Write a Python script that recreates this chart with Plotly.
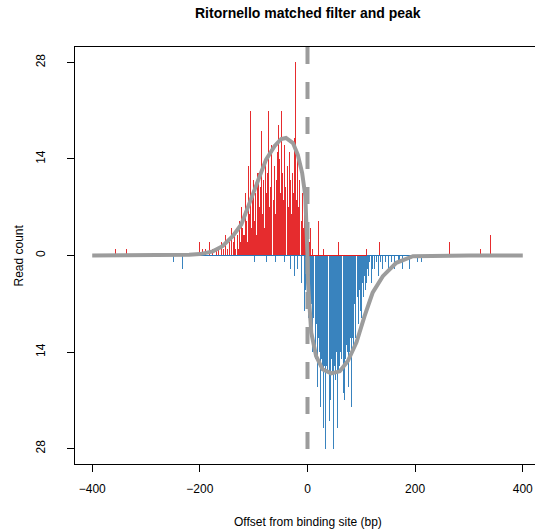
import plotly.graph_objects as go

# ---- data ----
red_pos = [-356, -336, -201, -196, -190, -182, -176, -170, -165, -160, -156, -152, -148, -145, -142, -138, -135, -133,
           -130, -128, -126, -124, -122, -120, -118, -116, -114, -112, -110, -108, -106, -104, -102, -100,
           -98, -96, -94, -92, -90, -88, -86, -84, -82, -80, -78, -76, -74, -72, -70, -68, -66, -64, -62, -60,
           -58, -56, -54, -52, -50, -48, -46, -44, -42, -40, -38, -36, -34, -32, -30, -28, -26, -24, -22, -20,
           -18, -16, -14, -12, -10, -8, -6, -4, -2, 0,
           3, 6, 10, 21, 30, 57, 110, 133, 264, 322, 340]
red_cnt = [1, 1, 2, 1, 1, 2, 1, 1, 1, 2, 1, 3, 1, 2, 4, 2, 3, 1,
           3, 1, 5, 2, 7, 4, 3, 9, 5, 2, 13, 6, 21, 4, 8, 11,
           5, 9, 3, 12, 7, 10, 18, 6, 11, 4, 14, 9, 12, 21, 7, 10, 16, 8, 13, 6,
           11, 15, 19, 14, 9, 21, 12, 8, 16, 10, 13, 7, 15, 11, 6, 12, 9, 17, 28, 8,
           15, 7, 11, 5, 9, 4, 7, 8, 3, 2,
           2, 4, 1, 5, 1, 2, 1, 2, 2, 1, 3]

blue_pos = [-249, -233, -99, -76, -60, -43, -31, -24, -18, -12, -6, -3,
            0, 2, 4, 6, 8, 10, 12, 14, 16, 18, 20, 22, 24, 26, 28, 30, 32, 34, 36, 38, 40,
            42, 44, 46, 48, 50, 52, 54, 56, 58, 60, 62, 64, 66, 68, 70, 72, 74, 76, 78, 80,
            82, 84, 86, 88, 90, 92, 94, 96, 98, 100, 102, 104, 106, 108, 110, 112, 114, 116, 118, 120,
            124, 128, 132, 136, 140, 145, 150, 156, 162, 170, 177, 190, 204, 212]
blue_cnt = [1, 2, 1, 1, 1, 1, 2, 3, 2, 4, 8, 5,
            6, 9, 4, 11, 7, 14, 9, 15, 10, 19, 12, 14, 22, 15, 16, 25, 16, 28, 16, 17, 24,
            21, 15, 17, 28, 16, 18, 14, 25, 17, 16, 14, 15, 20, 21, 15, 13, 14, 19, 14, 12,
            22, 12, 13, 7, 12, 6, 10, 5, 8, 9, 4, 6, 3, 5, 4, 2, 3, 1, 4, 2,
            2, 1, 3, 1, 2, 1, 2, 1, 2, 1, 2, 2, 1, 1]

# thin baselines at zero drawn by the zero-height bars
blue_base_x = [-200, 208]
red_base_x = [0, 110]

curve_x = [-400, -300, -250, -238, -220, -200, -176, -158, -139, -123, -108, -92, -77, -61, -49, -40,
           -27, -18, -10, -4, -1, 0, 1, 2.5, 7, 16, 28, 44, 60, 75, 91, 106, 121, 140, 165, 196, 250, 300, 400]
curve_y = [0, 0, 0.02, 0.05, 0.1, 0.2, 0.6, 1.35, 2.8, 4.5, 7.6, 11.0, 13.9, 15.9, 16.9, 17.05,
           16.3, 14.6, 12.0, 8.6, 4.2, 0, -4.0, -6.4, -11.2, -14.6, -16.5, -17.1, -16.8, -15.3, -12.6, -8.8,
           -5.4, -3.0, -1.06, -0.1, 0, 0, 0]

x_ticks = [-400, -200, 0, 200, 400]
x_ticklabels = ["\u2212400", "\u2212200", "0", "200", "400"]
y_ticks = [-28, -14, 0, 14, 28]
y_ticklabels = ["28", "14", "0", "14", "28"]

RED = "rgba(228,26,28,0.92)"
BLUE = "rgba(40,120,185,0.92)"
GRAY = "#9c9c9c"
FONT = "Liberation Sans, Arial, Helvetica, sans-serif"

fig = go.Figure()
fig.add_trace(go.Scatter(x=blue_base_x, y=[0, 0], mode="lines", line=dict(color="rgb(40,120,185)", width=1.2),
                         showlegend=False, hoverinfo="skip"))
fig.add_trace(go.Scatter(x=red_base_x, y=[0, 0], mode="lines", line=dict(color="rgb(228,26,28)", width=1.2),
                         showlegend=False, hoverinfo="skip"))
fig.add_trace(go.Bar(x=red_pos, y=red_cnt, width=1.9, marker=dict(color=RED, line=dict(width=0)),
                     showlegend=False))
fig.add_trace(go.Bar(x=blue_pos, y=[-v for v in blue_cnt], width=1.9,
                     marker=dict(color=BLUE, line=dict(width=0)), showlegend=False))
fig.add_trace(go.Scatter(x=curve_x, y=curve_y, mode="lines", line=dict(color=GRAY, width=4),
                         showlegend=False, hoverinfo="skip"))

fig.add_shape(type="line", xref="x", yref="paper", x0=0, x1=0, y0=1, y1=0,
              line=dict(color=GRAY, width=4, dash="17px,18px"), layer="above")

fig.update_layout(
    width=535, height=532,
    margin=dict(l=75, r=0, t=47, b=68),
    plot_bgcolor="white", paper_bgcolor="white",
    barmode="overlay", bargap=0,
    font=dict(family=FONT, size=12, color="black"),
    xaxis=dict(range=[-432, 422.7], tickmode="array", tickvals=x_ticks, ticktext=x_ticklabels,
               showgrid=False, zeroline=False, showline=True, mirror=True, linecolor="black", linewidth=1,
               ticks="outside", ticklen=7, tickcolor="black", tickfont=dict(size=12),
               ticklabelstandoff=7),
    yaxis=dict(range=[-30.24, 30.24], tickmode="array", tickvals=y_ticks, ticktext=y_ticklabels,
               showgrid=False, zeroline=False, showline=True, mirror=False, linecolor="black", linewidth=1,
               ticks="outside", ticklen=7, tickcolor="black", tickangle=-90, tickfont=dict(size=12),
               ticklabelstandoff=17),
    annotations=[
        dict(text="<b>Ritornello matched filter and peak</b>", xref="x", yref="paper", x=0, y=1,
             yshift=34, showarrow=False, font=dict(size=14), xanchor="center", yanchor="middle"),
        dict(text="Offset from binding site (bp)", xref="x", yref="paper", x=0, y=0, yshift=-58,
             showarrow=False, font=dict(size=12), xanchor="center", yanchor="middle"),
        dict(text="Read count", xref="paper", yref="y", x=0, xshift=-57, y=0, textangle=-90,
             showarrow=False, font=dict(size=12), xanchor="center", yanchor="middle"),
    ],
)

fig.write_html("out.html")
